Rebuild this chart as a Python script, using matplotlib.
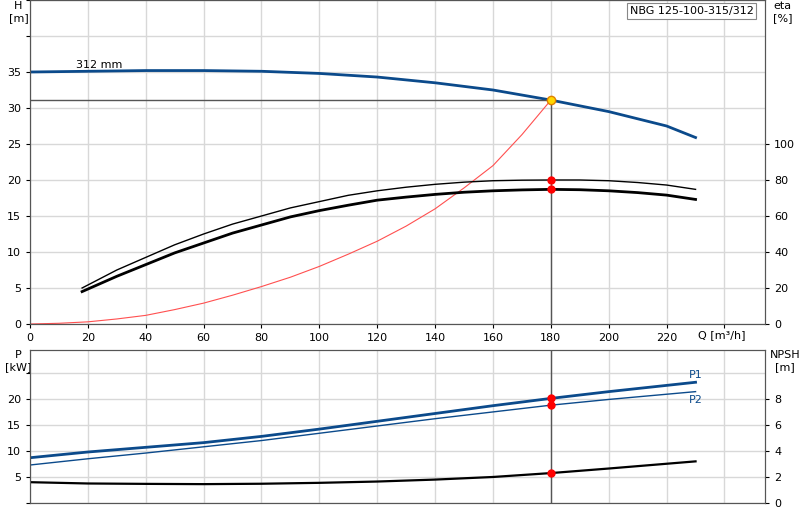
import matplotlib.pyplot as plt

# pump curve data
q_h = [0, 20, 40, 60, 80, 100, 120, 140, 160, 180, 200, 220, 230]
head = [35.0, 35.1, 35.2, 35.2, 35.1, 34.8, 34.3, 33.5, 32.5, 31.1, 29.5, 27.5, 25.9]

q_eta = [18, 30, 40, 50, 60, 70, 80, 90, 100, 110, 120, 130, 140, 150, 160, 170, 180, 190, 200, 210, 220, 230]
eta_pump = [20, 30, 37, 44, 50, 55.5, 60, 64.5, 68, 71.5, 74, 76, 77.6, 78.8, 79.6, 79.9, 80, 80, 79.6, 78.6, 77.2, 74.8]
eta_total = [18, 26.5, 33, 39.5, 45, 50.5, 55, 59.5, 63, 66, 68.8, 70.5, 72, 73.2, 74, 74.5, 74.8, 74.6, 74, 73, 71.6, 69.2]

q_sys = [0, 10, 20, 30, 40, 50, 60, 70, 80, 90, 100, 110, 120, 130, 140, 150, 160, 170, 180]
h_sys = [0, 0.1, 0.3, 0.7, 1.2, 2.0, 2.9, 4.0, 5.2, 6.5, 8.0, 9.7, 11.5, 13.6, 16.0, 18.9, 22.0, 26.3, 31.1]

q_p = [0, 20, 40, 60, 80, 100, 120, 140, 160, 180, 200, 230]
p1 = [8.7, 9.8, 10.7, 11.6, 12.8, 14.2, 15.7, 17.2, 18.7, 20.1, 21.4, 23.2]
p2 = [7.3, 8.5, 9.6, 10.8, 12.0, 13.4, 14.8, 16.2, 17.5, 18.8, 19.9, 21.4]
q_npsh = [0, 20, 40, 60, 80, 100, 120, 140, 160, 180, 200, 230]
npsh = [1.6, 1.5, 1.47, 1.45, 1.48, 1.55, 1.65, 1.8, 2.0, 2.3, 2.65, 3.2]

q_op = 180
h_op = 31.1

blue = '#0b4a8b'
grid = '#d8d8d8'

fig = plt.figure(figsize=(8, 5.2), dpi=100)
ax = fig.add_axes([30/800, 1-324/520, 735/800, 324/520])
ax2 = fig.add_axes([30/800, 1-503/520, 735/800, 153/520])

xmax = 254
ax.set_xlim(0, xmax)
ax.set_ylim(0, 45)
ax.set_xticks(range(0, 241, 20))
ax.set_xticklabels([str(v) for v in range(0, 221, 20)] + [''])
ax.set_yticks(range(0, 46, 5))
ax.set_yticklabels(['0', '5', '10', '15', '20', '25', '30', '35', '', ''])
ax.grid(True, color=grid, lw=1)

ax.plot(q_h, head, color=blue, lw=2)
ax.plot(q_sys, h_sys, color='#ff5050', lw=0.8)
axr = ax.twinx()
axr.set_ylim(0, 180)
axr.set_yticks(range(0, 101, 20))
axr.plot(q_eta, eta_pump, color='black', lw=1)
axr.plot(q_eta, eta_total, color='black', lw=2)
axr.plot([q_op, q_op], [80, 74.8], 'o', color='red', ms=5)
ax.plot([0, q_op], [h_op, h_op], color='#555555', lw=1)
ax.plot([q_op, q_op], [0, h_op], color='#555555', lw=1)
ax.plot(q_op, h_op, 'o', color='#ffd700', mec='#e08000', ms=6, zorder=5)

ax.text(16, 35.6, '312 mm', fontsize=8)
ax.text(-4, 44.8, 'H\n[m]', fontsize=8, ha='center', va='top')
ax.text(xmax + 6, 44.8, 'eta\n[%]', fontsize=8, ha='center', va='top')
ax.text(239, -0.8, 'Q [m³/h]', fontsize=8, ha='center', va='top')
ax.text(250, 44.2, 'NBG 125-100-315/312', fontsize=8, ha='right', va='top',
        bbox=dict(facecolor='white', edgecolor='#888888', lw=0.8, pad=2))

ax2.set_xlim(0, xmax)
ax2.set_ylim(0, 29.4)
ax2.set_xticks(range(0, 241, 20))
ax2.set_xticklabels([])
ax2.tick_params(axis='x', length=0)
ax2.set_yticks(range(0, 26, 5))
ax2.set_yticklabels(['', '5', '10', '15', '20', ''])
ax2.grid(True, color=grid, lw=1)
ax2.plot(q_p, p1, color=blue, lw=2)
ax2.plot(q_p, p2, color=blue, lw=1)
ax2.plot([q_op, q_op], [0, 29.4], color='#555555', lw=1)
ax2.plot([q_op, q_op], [20.1, 18.8], 'o', color='red', ms=5)
ax2.text(230, 24.0, 'P1', color=blue, fontsize=8, ha='center')
ax2.text(230, 19.3, 'P2', color=blue, fontsize=8, ha='center')
ax2.text(-4, 29.4, 'P\n[kW]', fontsize=8, ha='center', va='top')
ax2.text(xmax + 7, 29.4, 'NPSH\n[m]', fontsize=8, ha='center', va='top')
a2r = ax2.twinx()
a2r.set_ylim(0, 29.4 / 2.5)
a2r.set_yticks(range(0, 9, 2))
a2r.plot(q_npsh, npsh, color='black', lw=1.6)
a2r.plot(q_op, 2.3, 'o', color='red', ms=5)

for a in (ax, axr, ax2, a2r):
    a.tick_params(labelsize=8, length=3)
    for s in a.spines.values():
        s.set_color('#555555')
ax2.tick_params(axis='x', length=0)

fig.savefig('out.png')
